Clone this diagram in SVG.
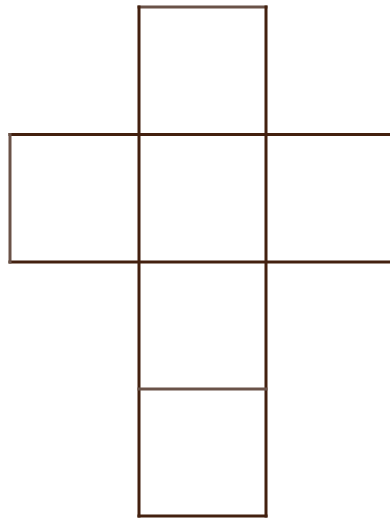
<svg xmlns="http://www.w3.org/2000/svg" width="390" height="521" viewBox="0 0 390 521">
<style>
.e{fill:none;stroke:#43200f;stroke-width:3;stroke-linecap:square}
.g{stroke:#6a5248}
</style>
<rect width="390" height="521" fill="#ffffff"/>
<g id="net">
<path class="e g" d="M139 7H266"/>
<path class="e" d="M139 7V516M266 7V516"/>
<path class="e" d="M10 134.5H390M10 262H390"/>
<path class="e g" d="M10 134.5V262"/>
<path class="e g" d="M139 389H266"/>
<path class="e" d="M139 516H266"/>
</g>
</svg>
